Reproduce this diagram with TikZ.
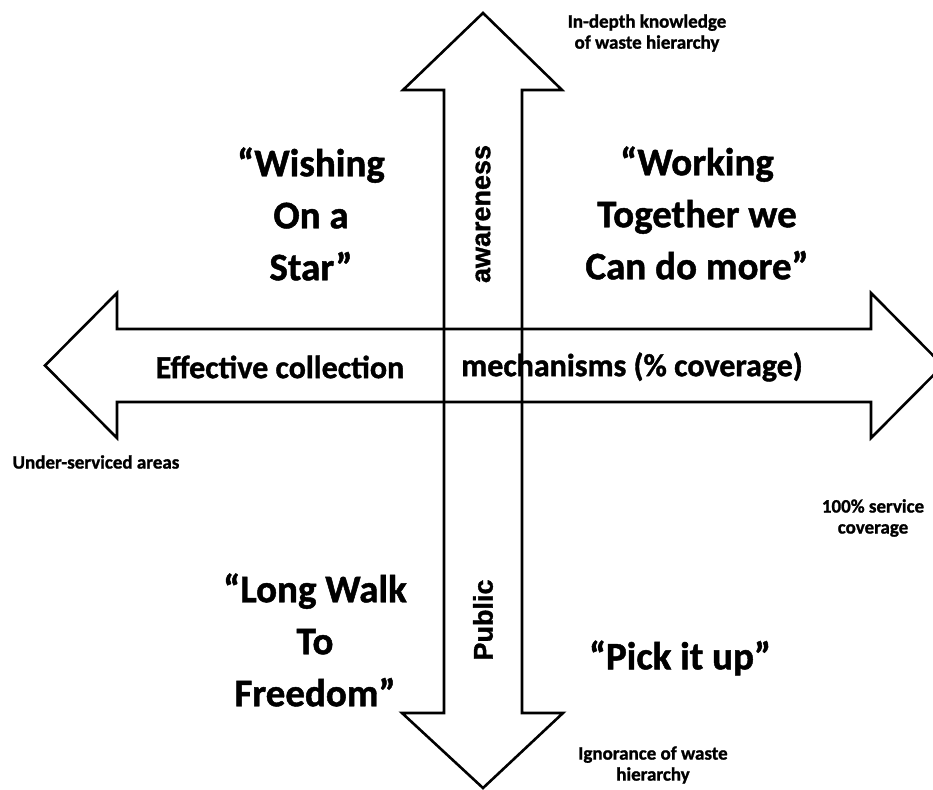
\documentclass[tikz,border=0pt]{standalone}
\usepackage{fontspec}
\setmainfont{Carlito}[BoldFeatures={FakeBold=1.2}]
\newfontfamily\arialfont{Liberation Sans}[BoldFeatures={FakeBold=1.2}]

\tikzset{
  bigarrow/.style={draw=black,line width=2.6pt,line join=miter},
  quadtext/.style={font=\bfseries\fontsize{39}{52}\selectfont,align=center,inner sep=0pt},
  axistext/.style={font=\bfseries\fontsize{32}{36}\selectfont,inner sep=0pt},
  sidetext/.style={font=\arialfont\bfseries\fontsize{27}{30}\selectfont,inner sep=0pt,rotate=90},
  endtext/.style={font=\bfseries\fontsize{19}{21}\selectfont,align=center,inner sep=0pt}
}

\begin{document}
\begin{tikzpicture}[x=1pt,y=-1pt]
  \clip (0,0) rectangle (933,789);
  \fill[white] (0,0) rectangle (933,789);

  % horizontal arrow: collection coverage
  \draw[bigarrow] (45,365.5)--(117,293)--(117,329)--(871,329)--(871,293)--(943,365.5)
    --(871,438)--(871,402)--(117,402)--(117,438)--cycle;
  % vertical arrow: public awareness
  \draw[bigarrow] (483,13)--(562,90)--(522,90)--(522,713)--(563,713)--(483,788)
    --(402,713)--(444,713)--(444,90)--(403,90)--cycle;

  % quadrants
  \node[quadtext] (wish) at (311,214) {``Wishing\\On a\\Star''};
  \node[quadtext] (work) at (697,213) {``Working\\Together we\\Can do more''};
  \node[quadtext] (walk) at (315,640) {``Long Walk\\To\\Freedom''};
  \node[quadtext] (pick) at (680,658) {``Pick it up''};

  % axis texts
  \node[axistext] (effect) at (280,367) {Effective collection};
  \node[axistext] (mech) at (632,367) {mechanisms (\% coverage)};
  \node[sidetext] (aware) at (483,214) {awareness};
  \node[sidetext] (public) at (483,620) {Public};

  % ends of the axes
  \node[endtext] (indepth) at (647,33) {In-depth knowledge\\of waste hierarchy};
  \node[endtext] (under) at (96,462) {Under-serviced areas};
  \node[endtext] (full) at (873,518) {100\% service\\coverage};
  \node[endtext] (ignore) at (653,765) {Ignorance of waste\\hierarchy};
\end{tikzpicture}
\end{document}
